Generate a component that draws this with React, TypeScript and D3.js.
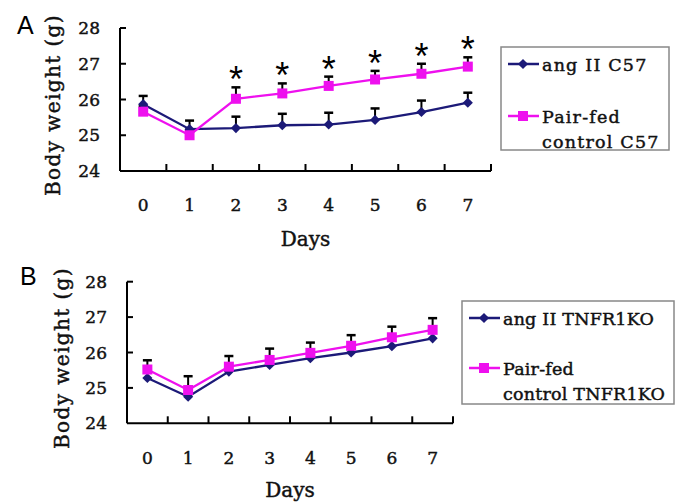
import { useEffect, useRef } from "react";
import * as d3 from "d3";

const days = ["0", "1", "2", "3", "4", "5", "6", "7"];
const yTicks = [24, 25, 26, 27, 28];

// panel A (C57)
const angIIC57 = [25.87, 25.17, 25.2, 25.28, 25.3, 25.43, 25.65, 25.91];
const angIIC57Err = [0.23, 0.24, 0.32, 0.32, 0.33, 0.32, 0.32, 0.28];
const pairFedC57 = [25.66, 25.0, 26.02, 26.17, 26.38, 26.56, 26.72, 26.92];
const pairFedC57Err = [0.15, 0.15, 0.32, 0.28, 0.26, 0.24, 0.28, 0.26];
const sigDaysC57 = ["2", "3", "4", "5", "6", "7"];

// panel B (TNFR1KO)
const angIITNFR = [25.28, 24.75, 25.46, 25.65, 25.84, 26.0, 26.18, 26.4];
const pairFedTNFR = [25.52, 24.94, 25.6, 25.79, 25.99, 26.19, 26.43, 26.64];
const pairFedTNFRErr = [0.26, 0.39, 0.3, 0.32, 0.29, 0.3, 0.3, 0.33];

const NAVY = "#1c1a78";
const PINK = "#ee10ee";
const SERIF = "'DejaVu Serif', 'Liberation Serif', serif";

type Series = {
  label: string[];
  values: number[];
  err: number[] | null;
  color: string;
  marker: "diamond" | "square";
};

type PanelOpts = {
  letter: string;
  letterPos: [number, number];
  x0: number;
  x1: number;
  yTop: number;
  yBottom: number;
  series: Series[];
  sig: string[];
  legend: { x: number; y: number; w: number; h: number; rows: number[]; spacing: number };
  yLabelX: number;
  yLabelY: number;
  daysY: number;
  tickLabelY: number;
};

const markerPath = (m: "diamond" | "square") =>
  m === "diamond"
    ? d3.symbol(d3.symbolDiamond2, 66)()
    : d3.symbol(d3.symbolSquare, 100)();

// slightly heavier serif text, like the scanned figure
const serifText = (sel: d3.Selection<SVGTextElement, any, any, any>, size: number) =>
  sel.attr("font-family", SERIF).attr("font-size", size)
    .attr("fill", "#111").attr("stroke", "#111").attr("stroke-width", 0.45);

function drawPanel(svg: d3.Selection<SVGSVGElement, unknown, null, undefined>, o: PanelOpts) {
  const g = svg.append("g");
  const x = d3.scaleBand<string>().domain(days).range([o.x0, o.x1]).padding(0);
  const y = d3.scaleLinear().domain([24, 28]).range([o.yBottom, o.yTop]);
  const cx = (d: string) => (x(d) as number) + x.bandwidth() / 2;

  // axes
  g.append("line")
    .attr("x1", o.x0).attr("x2", o.x0)
    .attr("y1", y(28)).attr("y2", y(24))
    .attr("stroke", "#000").attr("stroke-width", 2);
  g.append("line")
    .attr("x1", o.x0).attr("x2", o.x1)
    .attr("y1", y(24)).attr("y2", y(24))
    .attr("stroke", "#000").attr("stroke-width", 2);

  g.selectAll(".ytick").data(yTicks.filter(t => t > 24)).enter().append("line")
    .attr("x1", o.x0).attr("x2", o.x0 + 6)
    .attr("y1", d => y(d)).attr("y2", d => y(d))
    .attr("stroke", "#000").attr("stroke-width", 2);

  serifText(g.selectAll(".ylab").data(yTicks).enter().append("text")
    .attr("x", o.x0 - 20).attr("y", d => y(d) + 6)
    .attr("text-anchor", "end"), 17)
    .text(d => d);

  const bounds = days.slice(1).map(d => x(d) as number).concat([o.x1]);
  g.selectAll(".xtick").data(bounds).enter().append("line")
    .attr("x1", d => d).attr("x2", d => d)
    .attr("y1", y(24)).attr("y2", y(24) - 7)
    .attr("stroke", "#000").attr("stroke-width", 2);

  serifText(g.selectAll(".xlab").data(days).enter().append("text")
    .attr("x", d => cx(d)).attr("y", o.tickLabelY)
    .attr("text-anchor", "middle"), 17)
    .text(d => d);

  serifText(g.append("text")
    .attr("x", (o.x0 + o.x1) / 2).attr("y", o.daysY)
    .attr("text-anchor", "middle"), 20)
    .text("Days");

  serifText(g.append("text")
    .attr("transform", `translate(${o.yLabelX},${o.yLabelY}) rotate(-90)`)
    .attr("text-anchor", "middle")
    .attr("letter-spacing", 1.4), 20)
    .text("Body weight (g)");

  g.append("text")
    .attr("x", o.letterPos[0]).attr("y", o.letterPos[1])
    .attr("font-family", "'Liberation Sans', Arial, sans-serif").attr("font-size", 25)
    .text(o.letter);

  // error bars (upper only)
  o.series.forEach(s => {
    if (!s.err) return;
    const err = s.err;
    const eb = g.append("g").attr("stroke", "#000").attr("stroke-width", 2);
    days.forEach((d, i) => {
      const top = y(s.values[i] + err[i]);
      eb.append("line").attr("x1", cx(d)).attr("x2", cx(d)).attr("y1", y(s.values[i])).attr("y2", top);
      eb.append("line").attr("x1", cx(d) - 4.5).attr("x2", cx(d) + 4.5).attr("y1", top).attr("y2", top).attr("stroke-width", 2.5);
    });
  });

  // lines + markers
  o.series.forEach(s => {
    const line = d3.line<number>().x((_, i) => cx(days[i])).y(v => y(v));
    g.append("path").attr("d", line(s.values) as string)
      .attr("fill", "none").attr("stroke", s.color).attr("stroke-width", 2.3);
    g.selectAll(null).data(s.values).enter().append("path")
      .attr("d", markerPath(s.marker) as string)
      .attr("transform", (v, i) => `translate(${cx(days[i])},${y(v)})`)
      .attr("fill", s.color);
  });

  // significance asterisks above control series
  const ctrl = o.series[1];
  g.selectAll(".sig").data(o.sig).enter().append("text")
    .attr("x", d => cx(d))
    .attr("y", d => {
      const i = days.indexOf(d);
      return y(ctrl.values[i] + (ctrl.err ? ctrl.err[i] : 0)) + 5;
    })
    .attr("text-anchor", "middle")
    .attr("font-family", "'Liberation Sans', Arial, sans-serif").attr("font-size", 36)
    .text("*");

  // legend
  const L = o.legend;
  g.append("rect")
    .attr("x", L.x).attr("y", L.y).attr("width", L.w).attr("height", L.h)
    .attr("fill", "#fff").attr("stroke", "#888").attr("stroke-width", 1.5);
  o.series.forEach((s, k) => {
    const ly = L.rows[k];
    g.append("line")
      .attr("x1", L.x + 7).attr("x2", L.x + 38)
      .attr("y1", ly).attr("y2", ly)
      .attr("stroke", s.color).attr("stroke-width", 2.5);
    g.append("path").attr("d", markerPath(s.marker) as string)
      .attr("transform", `translate(${L.x + 22},${ly})`).attr("fill", s.color);
    s.label.forEach((t, j) => {
      serifText(g.append("text")
        .attr("x", L.x + 41).attr("y", ly + 7 + j * 25)
        .attr("letter-spacing", L.spacing), 17.5)
        .text(t);
    });
  });
}

export default function App() {
  const ref = useRef<SVGSVGElement>(null);

  useEffect(() => {
    if (!ref.current) return;
    const svg = d3.select(ref.current);
    svg.selectAll("*").remove();

    drawPanel(svg, {
      letter: "A",
      letterPos: [17, 34],
      x0: 120, x1: 491, yTop: 28, yBottom: 171,
      series: [
        { label: ["ang II C57"], values: angIIC57, err: angIIC57Err, color: NAVY, marker: "diamond" },
        { label: ["Pair-fed", "control C57"], values: pairFedC57, err: pairFedC57Err, color: PINK, marker: "square" },
      ],
      sig: sigDaysC57,
      legend: { x: 501, y: 47, w: 168, h: 103, rows: [64, 116], spacing: 1.2 },
      yLabelX: 60, yLabelY: 105,
      daysY: 246, tickLabelY: 211,
    });

    drawPanel(svg, {
      letter: "B",
      letterPos: [20, 285],
      x0: 127, x1: 453, yTop: 281.7, yBottom: 423.3,
      series: [
        { label: ["ang II TNFR1KO"], values: angIITNFR, err: null, color: NAVY, marker: "diamond" },
        { label: ["Pair-fed", "control TNFR1KO"], values: pairFedTNFR, err: pairFedTNFRErr, color: PINK, marker: "square" },
      ],
      sig: [],
      legend: { x: 462, y: 301, w: 212, h: 103, rows: [318, 368], spacing: 0.2 },
      yLabelX: 69, yLabelY: 358,
      daysY: 497, tickLabelY: 464,
    });
  }, []);

  return (
    <svg ref={ref} width={682} height={504}
      style={{ position: "absolute", left: 0, top: 0, background: "#fff" }} />
  );
}
